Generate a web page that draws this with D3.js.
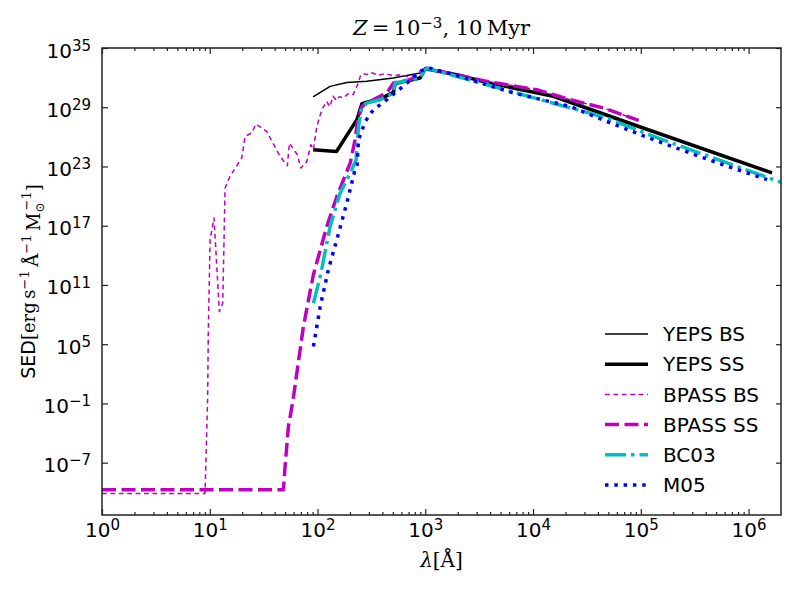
<!DOCTYPE html>
<html>
<head>
<meta charset="utf-8">
<script src="https://cdn.jsdelivr.net/npm/d3@7"></script>
<style>
  body { margin: 0; background: #fff; }
  text { font-family: 'DejaVu Sans', sans-serif; fill: #000; }
  .serif { font-family: 'DejaVu Serif', 'Liberation Serif', serif; }
</style>
</head>
<body>
<svg id="chart" width="789" height="592"></svg>
<script>
// [wavelength in A, SED in erg/s/A/Msun]
const yepsBS = [
  [91, 1.1e30], [110, 4.0e30], [131, 1.3e31], [187, 3.2e31], [287, 4.2e31], [504, 9.1e31],
  [897, 3.0e32], [1035, 7.4e32], [2000, 1.9e32], [3735, 3.2e31], [15400, 1.3e30],
  [98900, 1.0e27], [1.65e6, 2.2e22]
];
const yepsSS = [
  [91, 5.0e24], [150, 3.3e24], [232, 5.5e27], [258, 2.3e29], [287, 3.2e29],
  [381, 7.1e29], [507, 3.2e30], [525, 2.5e31], [897, 9.1e31], [1000, 7.9e32],
  [2000, 1.9e32], [3735, 3.2e31], [15400, 1.3e30], [98900, 1.0e27], [1.65e6, 2.2e22]
];
const bpassBS = [
  [1, 7.4e-11], [9.04, 7.4e-11], [9.55, 0.23], [9.7, 2.9e6], [10.07, 3.8e15],
  [10.96, 6.0e17], [12.27, 2.0e8], [13.2, 1.4e9], [13.87, 6.6e20], [15.4, 1.0e22],
  [19.8, 7.2e23], [21.3, 1.1e26], [24.5, 2.5e26], [26.9, 2.0e27], [33.8, 3.5e26],
  [45, 1.0e24], [52.5, 1.2e23], [54.8, 2.3e25], [62, 3.3e24], [65, 1.5e24],
  [70, 6.9e22], [79.6, 3.2e23], [86.7, 1.6e25], [91.6, 5.0e24], [98.5, 1.1e27],
  [109.6, 5.6e28], [122, 3.9e29], [130, 1.1e29], [139.6, 1.3e30], [150, 5.0e29],
  [160, 1.2e30], [173, 8.5e29], [185, 1.6e30], [195, 2.5e30], [214, 1.9e30],
  [239, 2.8e31], [249, 1.3e32], [262, 2.6e32], [287, 2.0e32], [310, 3.2e32],
  [330, 2.8e32], [355, 1.8e32], [381, 2.0e32], [430, 2.5e32], [504, 1.5e32],
  [600, 2.0e32], [680, 1.3e32], [772, 1.5e32], [930, 6.3e32], [1019, 8.9e32],
  [3730, 4.2e31], [10870, 5.9e30], [22100, 5.8e29], [45100, 8.3e28], [95400, 4.6e27]
];
const bpassSS = [
  [1, 1.8e-10], [48.2, 1.8e-10], [50, 4.1e-8], [53.7, 4.6e-4], [59.3, 0.23],
  [74, 6.3e6], [91.6, 1.1e12], [122, 8.5e16], [151, 9.1e19], [201, 2.2e23],
  [223, 5.1e25], [233, 2.1e27], [258, 1.2e29], [287, 2.7e29], [440, 2.8e30],
  [507, 2.8e31], [724, 6.2e31], [916, 2.5e32], [1019, 8.9e32], [3730, 4.2e31],
  [10870, 5.9e30], [22100, 5.8e29], [45100, 8.3e28], [95400, 4.6e27]
];
const bc03 = [
  [91.6, 1.4e9], [106, 7.2e11], [131, 8.5e16], [162, 2.0e20], [208, 4.7e22],
  [228, 4.8e23], [240, 1.1e27], [258, 1.2e29], [287, 2.7e29], [381, 5.8e29],
  [507, 2.8e30], [525, 2.8e31], [897, 9.1e31], [962, 4.3e32], [1042, 8.9e32],
  [3730, 1.9e31], [13460, 3.9e29], [48500, 8.1e27], [131500, 1.1e26],
  [474000, 7.1e23], [2.0e6, 2.5e21]
];
const m05 = [
  [91.6, 5.9e4], [106, 6.6e8], [126, 3.5e12], [151, 3.8e15], [187, 2.0e19],
  [223, 4.7e22], [233, 1.5e23], [240, 5.1e25], [277, 3.6e27], [330, 5.6e28],
  [440, 5.8e29], [675, 2.8e31], [897, 4.3e32], [1064, 1.0e33], [1828, 2.0e32],
  [6590, 2.8e30], [22100, 1.2e29], [48500, 3.6e27], [131500, 5.1e25],
  [474000, 3.2e23], [1.486e6, 4.6e21]
];

const seriesNames = ['YEPS BS', 'YEPS SS', 'BPASS BS', 'BPASS SS', 'BC03', 'M05'];
const seriesData = [yepsBS, yepsSS, bpassBS, bpassSS, bc03, m05];

const xTicks = [1e0, 1e1, 1e2, 1e3, 1e4, 1e5, 1e6];
const yTicks = [1e-7, 1e-1, 1e5, 1e11, 1e17, 1e23, 1e29, 1e35];
const xDomain = [1, 2e6];
const yDomain = [5e-13, 1e35];

// line looks, same order as seriesNames
const styles = [
  { color: '#000000', width: 1.5, dash: null },
  { color: '#000000', width: 3.5, dash: null },
  { color: '#bf00bf', width: 1.5, dash: '4.8,3.6' },
  { color: '#bf00bf', width: 3.5, dash: '14,5.5' },
  { color: '#00bfbf', width: 3.5, dash: '21,5,3.5,5' },
  { color: '#0000ff', width: 3.5, dash: '3.5,5.8' }
];

const svg = d3.select('#chart');
const margin = { left: 102, top: 48, right: 8, bottom: 77 };
const width = +svg.attr('width');
const height = +svg.attr('height');
const innerWidth = width - margin.left - margin.right;
const innerHeight = height - margin.top - margin.bottom;

const xScale = d3.scaleLog().domain(xDomain).range([0, innerWidth]);
const yScale = d3.scaleLog().domain(yDomain).range([innerHeight, 0]);

const g = svg.append('g')
  .attr('transform', `translate(${margin.left},${margin.top})`);

g.append('clipPath').attr('id', 'plot-clip')
  .append('rect').attr('width', innerWidth).attr('height', innerHeight);

// minor ticks on the x axis: 2..9 in every decade
const xMinor = [];
for (let e = 0; e <= 6; e++) {
  for (let m = 2; m <= 9; m++) {
    const v = m * Math.pow(10, e);
    if (v < xDomain[1]) xMinor.push(v);
  }
}

const exponent = d => Math.round(Math.log10(d));
const fmtExp = e => (e < 0 ? '\u2212' + (-e) : '' + e);

// write "10^n" into a tick's text node
const powerLabel = (sel) => {
  sel.each(function (d) {
    const t = d3.select(this);
    t.text(null);
    t.append('tspan').text('10');
    t.append('tspan')
      .attr('dy', '-0.45em')
      .style('font-size', '15px')
      .text(fmtExp(exponent(d)));
  });
};

const styleAxis = (axisG, keepText) => {
  axisG.select('.domain').remove();
  if (!keepText) axisG.selectAll('.tick text').remove();
  axisG.selectAll('.tick line').attr('stroke', '#222').attr('stroke-width', 1.2);
};

// bottom axis
const xAxisG = g.append('g').attr('transform', `translate(0,${innerHeight})`);
xAxisG.call(d3.axisBottom(xScale).tickValues(xTicks).tickSize(-6).tickPadding(8).tickFormat(''));
xAxisG.selectAll('.tick text')
  .attr('font-size', 20)
  .attr('font-family', 'DejaVu Sans')
  .attr('dy', '0.7em')
  .call(powerLabel);
styleAxis(xAxisG, true);
const xMinorG = g.append('g').attr('transform', `translate(0,${innerHeight})`);
xMinorG.call(d3.axisBottom(xScale).tickValues(xMinor).tickSize(-3).tickFormat(''));
styleAxis(xMinorG);

// top axis, ticks only
const topG = g.append('g');
topG.call(d3.axisTop(xScale).tickValues(xTicks).tickSize(-6).tickFormat(''));
styleAxis(topG);
const topMinorG = g.append('g');
topMinorG.call(d3.axisTop(xScale).tickValues(xMinor).tickSize(-3).tickFormat(''));
styleAxis(topMinorG);

// left axis
const yAxisG = g.append('g');
yAxisG.call(d3.axisLeft(yScale).tickValues(yTicks).tickSize(-6).tickPadding(11).tickFormat(''));
yAxisG.selectAll('.tick text')
  .attr('font-size', 20)
  .attr('font-family', 'DejaVu Sans')
  .attr('dy', '0.45em')
  .call(powerLabel);
styleAxis(yAxisG, true);

// right axis, ticks only
const rightG = g.append('g').attr('transform', `translate(${innerWidth},0)`);
rightG.call(d3.axisRight(yScale).tickValues(yTicks).tickSize(-5).tickFormat(''));
styleAxis(rightG);

// the lines
const lineGen = d3.line()
  .x(d => xScale(d[0]))
  .y(d => yScale(d[1]));

g.append('g')
  .attr('clip-path', 'url(#plot-clip)')
  .selectAll('path')
  .data(seriesData)
  .join('path')
    .attr('d', d => lineGen(d))
    .attr('fill', 'none')
    .attr('stroke', (d, i) => styles[i].color)
    .attr('stroke-width', (d, i) => styles[i].width)
    .attr('stroke-dasharray', (d, i) => styles[i].dash)
    .attr('stroke-linejoin', 'round')
    .attr('stroke-linecap', 'butt');

// frame
g.append('rect')
  .attr('width', innerWidth)
  .attr('height', innerHeight)
  .attr('fill', 'none')
  .attr('stroke', '#222')
  .attr('stroke-width', 1.5);

// legend, no frame
const legend = svg.append('g').attr('transform', 'translate(605,334)');
const rows = legend.selectAll('g')
  .data(seriesNames)
  .join('g')
    .attr('transform', (d, i) => `translate(0,${i * 30.2})`);
rows.append('line')
  .attr('x1', 0).attr('x2', 43)
  .attr('stroke', (d, i) => styles[i].color)
  .attr('stroke-width', (d, i) => styles[i].width)
  .attr('stroke-dasharray', (d, i) => styles[i].dash);
rows.append('text')
  .attr('x', 58)
  .attr('dy', '0.36em')
  .attr('font-size', 20)
  .text(d => d);

// title
const title = svg.append('text')
  .attr('class', 'serif')
  .attr('x', margin.left + innerWidth / 2)
  .attr('y', 35)
  .attr('text-anchor', 'middle')
  .attr('font-size', 21);
title.append('tspan').attr('font-style', 'italic').text('Z');
title.append('tspan').text('\u2009=\u200910');
title.append('tspan').attr('dy', '-0.45em').style('font-size', '15px').text('\u22123');
title.append('tspan').attr('dy', '0.3em').text(', 10\u2009Myr');

// x label
const xLabel = svg.append('text')
  .attr('class', 'serif')
  .attr('x', margin.left + innerWidth / 2)
  .attr('y', 567)
  .attr('text-anchor', 'middle')
  .attr('font-size', 20);
xLabel.append('tspan').attr('font-style', 'italic').text('\u03bb');
xLabel.append('tspan').text('[\u00c5]');

// y label
const yLabel = svg.append('text')
  .attr('transform', `translate(35,${margin.top + innerHeight / 2}) rotate(-90)`)
  .attr('text-anchor', 'middle')
  .attr('font-size', 19);
yLabel.append('tspan').text('SED');
yLabel.append('tspan').attr('class', 'serif').attr('font-size', 18).text('[erg\u2009s');
yLabel.append('tspan').attr('class', 'serif').attr('dy', '-0.5em').attr('font-size', 13).text('\u22121');
yLabel.append('tspan').attr('class', 'serif').attr('dy', '0.5em').attr('font-size', 18).text('\u2009\u00c5');
yLabel.append('tspan').attr('class', 'serif').attr('dy', '-0.5em').attr('font-size', 13).text('\u22121');
yLabel.append('tspan').attr('class', 'serif').attr('dy', '0.5em').attr('font-size', 18).text('\u2009M');
yLabel.append('tspan').attr('class', 'serif').attr('dy', '0.3em').attr('font-size', 12).text('\u2299');
yLabel.append('tspan').attr('class', 'serif').attr('dx', '-8').attr('dy', '-1.0em').attr('font-size', 13).text('\u22121');
yLabel.append('tspan').attr('class', 'serif').attr('dy', '0.5em').attr('font-size', 18).text(']');
</script>
</body>
</html>
